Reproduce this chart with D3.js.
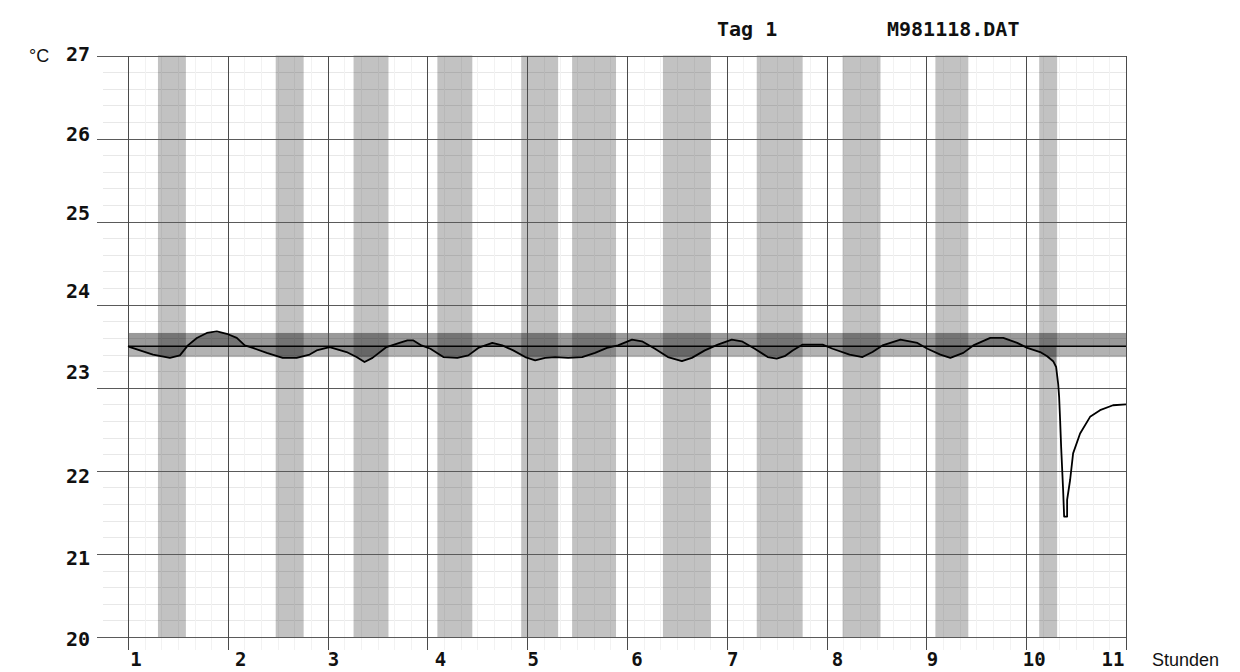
<!DOCTYPE html>
<html>
<head>
<meta charset="utf-8">
<style>
  html, body { margin: 0; padding: 0; background: #fff; }
  svg { display: block; }
  .mono { font-family: "DejaVu Sans Mono", monospace; font-weight: bold; fill: #111; }
  .sans { font-family: "Liberation Sans", Arial, sans-serif; fill: #111; }
</style>
</head>
<body>
<div id="chart"></div>
<script src="https://d3js.org/d3.v7.min.js"></script>
<script>
// Stundenwerte und Temperatur (°C)
const hours = [1.00, 1.02, 1.12, 1.25, 1.42, 1.52, 1.60, 1.69, 1.79, 1.89, 1.99, 2.09, 2.17, 2.25, 2.39, 2.55, 2.69, 2.82, 2.89,
  3.02, 3.19, 3.29, 3.37, 3.45, 3.59, 3.72, 3.80, 3.86, 3.94, 4.03, 4.16, 4.30, 4.41, 4.51, 4.65, 4.75, 4.86, 4.98,
  5.08, 5.18, 5.28, 5.41, 5.55, 5.68, 5.80, 5.91, 6.05, 6.15, 6.28, 6.41, 6.55, 6.65, 6.78, 6.91, 7.05, 7.15, 7.28,
  7.41, 7.50, 7.58, 7.66, 7.76, 7.96, 8.06, 8.23, 8.36, 8.46, 8.56, 8.74, 8.91, 9.01, 9.14, 9.24, 9.37, 9.47, 9.64,
  9.77, 9.91, 10.01, 10.14, 10.21, 10.27, 10.30, 10.32, 10.33, 10.34, 10.35, 10.37, 10.38, 10.41, 10.41, 10.44,
  10.47, 10.54, 10.64, 10.74, 10.87, 11.00];
const temps = [23.50, 23.49, 23.45, 23.40, 23.36, 23.39, 23.51, 23.60, 23.66, 23.68, 23.65, 23.60, 23.51, 23.48, 23.42, 23.36, 23.36, 23.40, 23.45,
  23.49, 23.43, 23.37, 23.31, 23.36, 23.49, 23.54, 23.57, 23.57, 23.51, 23.47, 23.37, 23.36, 23.39, 23.48, 23.54, 23.51, 23.45, 23.37,
  23.33, 23.36, 23.37, 23.36, 23.37, 23.42, 23.48, 23.51, 23.58, 23.56, 23.47, 23.37, 23.32, 23.36, 23.45, 23.52, 23.58, 23.56, 23.47,
  23.37, 23.35, 23.38, 23.45, 23.52, 23.52, 23.47, 23.40, 23.37, 23.43, 23.51, 23.58, 23.54, 23.47, 23.40, 23.36, 23.42, 23.51, 23.60,
  23.60, 23.54, 23.48, 23.43, 23.38, 23.32, 23.25, 23.05, 22.89, 22.61, 22.29, 21.77, 21.45, 21.45, 21.65, 21.89,
  22.21, 22.45, 22.65, 22.73, 22.79, 22.80];

// graue Zeitabschnitte (Stunden)
const shadeStart = [1.30, 2.48, 3.26, 4.10, 4.94, 5.45, 6.36, 7.30, 8.16, 9.09, 10.13];
const shadeEnd   = [1.58, 2.76, 3.61, 4.45, 5.31, 5.89, 6.84, 7.76, 8.54, 9.42, 10.31];

// Sollwert und Toleranzband
const setpoint = 23.5;
const bandHigh = 23.66;
const bandLow = 23.37;

const xTicks = [1, 2, 3, 4, 5, 6, 7, 8, 9, 10, 11];
const yTicks = [20, 21, 22, 23, 24, 25, 26, 27];
const titleDay = 'Tag 1';
const titleFile = 'M981118.DAT';
const unitY = '°C';
const unitX = 'Stunden';

const W = 1240, H = 672;
const svg = d3.select('#chart').append('svg').attr('width', W).attr('height', H);

const x = d3.scaleLinear().domain([1, 11]).range([128, 1126]);
const y = d3.scaleLinear().domain([20, 27]).range([637, 55.5]);
const gridLeft = 97;
const px = v => Math.round(v) + 0.5;

// feines Raster
const minorY = d3.range(20, 27.001, 0.2).filter(v => Math.abs(v - Math.round(v)) > 0.01);
svg.append('g').selectAll('line').data(minorY).join('line')
  .attr('x1', gridLeft + 6).attr('x2', x(11))
  .attr('y1', d => px(y(d))).attr('y2', d => px(y(d)))
  .attr('stroke', '#e8e8e8').attr('shape-rendering', 'crispEdges');
const minorX = d3.range(1, 11.001, 1 / 6).filter(v => Math.abs(v - Math.round(v)) > 0.01);
svg.append('g').selectAll('line').data(minorX).join('line')
  .attr('x1', d => px(x(d))).attr('x2', d => px(x(d)))
  .attr('y1', y(27)).attr('y2', y(20) + 13)
  .attr('stroke', '#f2f2f2').attr('shape-rendering', 'crispEdges');

// graue Abschnitte
svg.append('g').selectAll('rect').data(shadeStart).join('rect')
  .attr('x', d => x(d))
  .attr('width', (d, i) => x(shadeEnd[i]) - x(d))
  .attr('y', y(27)).attr('height', y(20) - y(27))
  .attr('fill', '#000').attr('fill-opacity', 0.24);

// Toleranzband
svg.append('rect').attr('x', x(1)).attr('width', x(11) - x(1))
  .attr('y', y(bandHigh)).attr('height', y(setpoint) - y(bandHigh))
  .attr('fill', '#000').attr('fill-opacity', 0.4);
svg.append('rect').attr('x', x(1)).attr('width', x(11) - x(1))
  .attr('y', y(setpoint)).attr('height', y(bandLow) - y(setpoint))
  .attr('fill', '#000').attr('fill-opacity', 0.3);

// Hauptraster
svg.append('g').selectAll('line').data(yTicks).join('line')
  .attr('x1', gridLeft).attr('x2', x(11))
  .attr('y1', d => px(y(d))).attr('y2', d => px(y(d)))
  .attr('stroke', '#5a5a5a').attr('shape-rendering', 'crispEdges');
svg.append('g').selectAll('line').data(xTicks).join('line')
  .attr('x1', d => px(x(d))).attr('x2', d => px(x(d)))
  .attr('y1', y(27)).attr('y2', y(20) + 13)
  .attr('stroke', '#4a4a4a').attr('shape-rendering', 'crispEdges');

// Fläche zwischen Kurve und Sollwert
const data = hours.map((h, i) => ({ h, t: temps[i] }));
const area = d3.area().x(d => x(d.h)).y0(y(setpoint)).y1(d => y(d.t));
svg.append('path').datum(data.filter(d => d.h <= 10.3))
  .attr('d', area).attr('fill', '#000').attr('fill-opacity', 0.24);

// Sollwertlinie
svg.append('line').attr('x1', x(1)).attr('x2', x(11))
  .attr('y1', y(setpoint)).attr('y2', y(setpoint))
  .attr('stroke', '#000').attr('stroke-width', 1.6);

// Temperaturkurve
const line = d3.line().x(d => x(d.h)).y(d => y(d.t));
svg.append('path').datum(data)
  .attr('d', line).attr('fill', 'none')
  .attr('stroke', '#000').attr('stroke-width', 1.8).attr('stroke-linejoin', 'round');

// Achsenbeschriftung
const yNudge = { 27: -2, 26: -5, 25: -9, 24: -14, 23: -16, 22: 5, 21: 4, 20: 2 };
svg.append('g').selectAll('text').data(yTicks).join('text')
  .attr('class', 'mono').attr('font-size', 20)
  .attr('x', 90).attr('y', d => y(d) + yNudge[d])
  .attr('text-anchor', 'end').attr('dominant-baseline', 'central')
  .text(d => d);
const xNudge = [8, 13, 6, 13, 6, 10, 6, 11, 6, 8, -13];
svg.append('g').selectAll('text').data(xTicks).join('text')
  .attr('class', 'mono').attr('font-size', 19)
  .attr('x', (d, i) => x(d) + xNudge[i]).attr('y', 666)
  .attr('text-anchor', 'middle')
  .text(d => d);

svg.append('text').attr('class', 'sans').attr('font-size', 18)
  .attr('x', 29).attr('y', 62).text(unitY);
svg.append('text').attr('class', 'sans').attr('font-size', 18)
  .attr('x', 1152).attr('y', 666).text(unitX);
svg.append('text').attr('class', 'mono').attr('font-size', 20)
  .attr('x', 717).attr('y', 36).text(titleDay);
svg.append('text').attr('class', 'mono').attr('font-size', 20)
  .attr('x', 887).attr('y', 36).text(titleFile);
</script>
</body>
</html>
